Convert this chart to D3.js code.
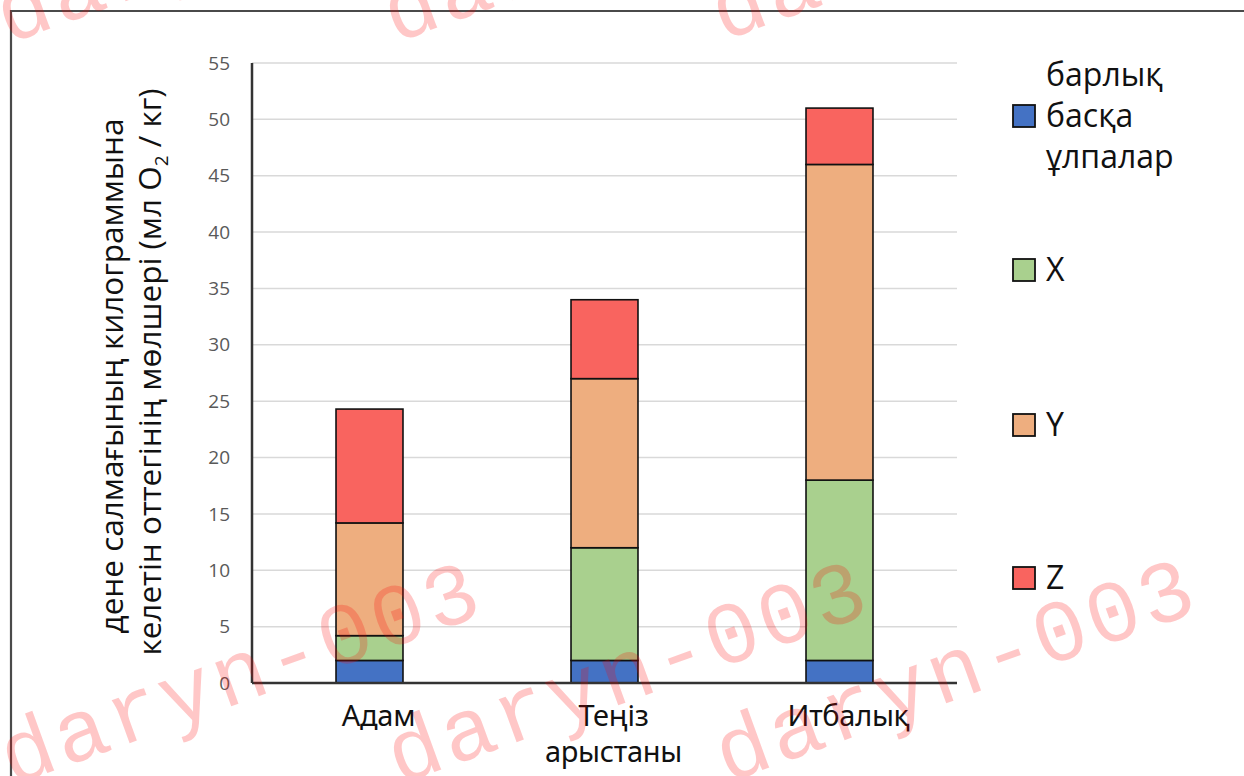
<!DOCTYPE html>
<html>
<head>
<meta charset="utf-8">
<script src="https://cdn.jsdelivr.net/npm/d3@7"></script>
<style>
  html, body { margin: 0; padding: 0; background: #fff; }
  svg { display: block; }
</style>
</head>
<body>
<svg id="chart" width="1244" height="776"></svg>
<script>
// Oxygen consumption per kilogram of body mass, split by tissue group
const categories = ["Адам", "Теңіз арыстаны", "Итбалық"];
const otherTissues = [2, 2, 2];
const tissueX = [2.2, 10, 16];
const tissueY = [10, 15, 28];
const tissueZ = [10.1, 7, 5];
const yTicks = [0, 5, 10, 15, 20, 25, 30, 35, 40, 45, 50, 55];
const seriesNames = ["барлық басқа ұлпалар", "X", "Y", "Z"];
const seriesColors = ["#4472c4", "#a9d08e", "#eeae7f", "#f9645f"];

const rows = categories.map((c, i) => ({
  cat: c,
  s0: otherTissues[i], s1: tissueX[i], s2: tissueY[i], s3: tissueZ[i]
}));
const keys = ["s0", "s1", "s2", "s3"];
const stacked = d3.stack().keys(keys)(rows);

const svg = d3.select("#chart");

// outer frame (top and left edges)
svg.append("path")
  .attr("d", "M11,776 V11 H1244")
  .attr("fill", "none").attr("stroke", "#4a4a4a").attr("stroke-width", 2.2);

const plot = { left: 252, right: 957, top: 63, bottom: 683 };

const x = d3.scaleBand().domain(categories)
  .range([plot.left, plot.right]).paddingInner(0.715).paddingOuter(0.3575);
const y = d3.scaleLinear().domain([0, 55]).range([plot.bottom, plot.top]);

// gridlines
svg.append("g").selectAll("line").data(yTicks.filter(t => t > 0)).join("line")
  .attr("x1", plot.left).attr("x2", plot.right)
  .attr("y1", d => y(d)).attr("y2", d => y(d))
  .attr("stroke", "#d9d9d9").attr("stroke-width", 1.5);

// y tick labels
const yAxis = d3.axisLeft(y).tickValues(yTicks).tickSize(0).tickPadding(22);
const gy = svg.append("g").attr("transform", `translate(${plot.left},0)`).call(yAxis);
gy.select(".domain").remove();
gy.selectAll("text")
  .attr("fill", "#595959")
  .style("font-family", "'Open Sans', 'Noto Sans', sans-serif")
  .style("font-size", "19px");

// stacked bars
svg.append("g").selectAll("g").data(stacked).join("g")
  .attr("fill", (d, i) => seriesColors[i])
  .selectAll("rect").data(d => d).join("rect")
  .attr("x", d => x(d.data.cat))
  .attr("width", x.bandwidth())
  .attr("y", d => y(d[1]))
  .attr("height", d => y(d[0]) - y(d[1]))
  .attr("stroke", "#111").attr("stroke-width", 1.6);

// axis lines
svg.append("line")
  .attr("x1", plot.left).attr("x2", plot.left)
  .attr("y1", plot.top).attr("y2", plot.bottom)
  .attr("stroke", "#333").attr("stroke-width", 2.5);
svg.append("line")
  .attr("x1", plot.left).attr("x2", plot.right)
  .attr("y1", plot.bottom).attr("y2", plot.bottom)
  .attr("stroke", "#333").attr("stroke-width", 2.5);

// category labels
const catFont = "'Noto Sans', 'Open Sans', sans-serif";
const xl = svg.append("g");
categories.forEach(c => {
  const words = c.split(" ");
  const cx = x(c) + x.bandwidth() / 2 + 9;
  const t = xl.append("text")
    .attr("y", 726)
    .attr("text-anchor", "middle")
    .attr("fill", "#111")
    .style("font-family", catFont)
    .style("font-size", "29px")
    .style("letter-spacing", "-0.3px");
  words.forEach((w, i) => {
    t.append("tspan").attr("x", cx).attr("dy", i === 0 ? 0 : 36).text(w);
  });
});

// y-axis title (two lines, rotated)
const titleFont = "'Open Sans', 'Noto Sans', sans-serif";
const title = svg.append("g").attr("transform", "rotate(-90)")
  .attr("fill", "#111")
  .style("font-family", titleFont)
  .style("font-size", "31.5px");
title.append("text").attr("x", -376).attr("y", 123).attr("text-anchor", "middle")
  .text("дене салмағының килограммына");
const t2 = title.append("text").attr("x", -372).attr("y", 161).attr("text-anchor", "middle");
t2.append("tspan").text("келетін оттегінің мөлшері (мл O");
t2.append("tspan").attr("dy", 7).style("font-size", "19px").text("2");
t2.append("tspan").attr("dy", -7).text(" / кг)");

// legend
const legendY = [116, 270, 425, 578];
const lg = svg.append("g");
seriesNames.forEach((name, i) => {
  lg.append("rect")
    .attr("x", 1013).attr("y", legendY[i] - 11)
    .attr("width", 22).attr("height", 22)
    .attr("fill", seriesColors[i]).attr("stroke", "#111").attr("stroke-width", 1.8);
  const words = name.split(" ");
  const n = words.length;
  words.forEach((w, j) => {
    lg.append("text")
      .attr("x", 1046)
      .attr("y", legendY[i] + 11 + (j - (n - 1) / 2) * 41)
      .attr("fill", "#111")
      .style("font-family", titleFont)
      .style("font-size", "32px")
      .text(w);
  });
});

// repeated watermark
const wmText = "daryn-003";
const wmPos = [[12, 786], [399, 785], [727, 783], [8, 44], [395, 43], [723, 41]];
svg.append("g").selectAll("text").data(wmPos).join("text")
  .attr("transform", d => `translate(${d[0]},${d[1]}) rotate(-20)`)
  .attr("fill", "#ff0000").attr("fill-opacity", 0.22)
  .style("font-family", "'Liberation Mono', monospace")
  .style("font-size", "88px")
  .style("letter-spacing", "3.5px")
  .text(wmText);
</script>
</body>
</html>
